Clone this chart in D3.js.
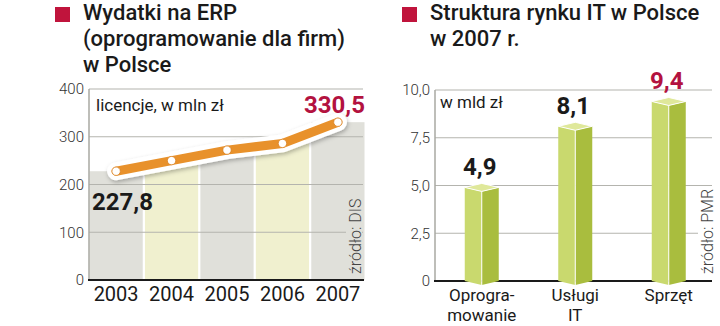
<!DOCTYPE html>
<html><head><meta charset="utf-8">
<script src="https://cdn.jsdelivr.net/npm/d3@7/dist/d3.min.js"></script>
<style>
html,body{margin:0;padding:0;background:#fff;}
svg{display:block;font-family:Roboto,"Noto Sans",sans-serif;}
</style></head>
<body>
<svg id="c" width="720" height="326"></svg>
<script>
// Left chart data
const years = ["2003","2004","2005","2006","2007"];
const erpValues = [227.8, 250, 272, 286, 330.5];
const erpTicks = [0, 100, 200, 300, 400];
// Right chart data
const categories = [["Oprogra-","mowanie"],["Usługi","IT"],["Sprzęt"]];
const itValues = [4.9, 8.1, 9.4];
const itTicks = [0, 2.5, 5, 7.5, 10];

const svg = d3.select("#c");
const RED = "#c0143c";
const fmt = d => d3.format(".1f")(d).replace(".", ",");

// defs
const defs = svg.append("defs");
const f = defs.append("filter").attr("id","sh").attr("x","-10%").attr("y","-40%").attr("width","120%").attr("height","200%");
f.append("feDropShadow").attr("dx",1).attr("dy",2).attr("stdDeviation",2.2).attr("flood-color","#000").attr("flood-opacity",0.28);

// Titles
function title(x, y, lines){
  svg.append("rect").attr("x",x).attr("y",y-13).attr("width",15).attr("height",15).attr("fill",RED);
  const t = svg.append("text").attr("x",x+28).attr("y",y).attr("font-size",22).attr("font-weight",500).attr("fill","#1a1a1a");
  lines.forEach((l,i)=> t.append("tspan").attr("x",x+28).attr("dy", i? 26:0).text(l));
}
title(55, 20, ["Wydatki na ERP","(oprogramowanie dla firm)","w Polsce"]);
title(402, 20, ["Struktura rynku IT w Polsce","w 2007 r."]);

// ---------- Left chart ----------
const x1 = d3.scaleBand().domain(years).range([89.5, 364.5]).paddingInner(0.04).paddingOuter(0);
const y1 = d3.scaleLinear().domain([0,400]).range([280, 89]);
const g1 = svg.append("g");
g1.selectAll("rect.col").data(years).join("rect")
  .attr("x", d=>x1(d)).attr("width", x1.bandwidth())
  .attr("y", (d,i)=>y1(erpValues[i])).attr("height",(d,i)=>y1(0)-y1(erpValues[i]))
  .attr("fill",(d,i)=> i%2 ? "#f0f0cf" : "#e0e0da");
// grid
g1.selectAll("line.grid").data(erpTicks.filter(d=>d>0)).join("line")
  .attr("x1",89).attr("x2",363).attr("y1",d=>y1(d)).attr("y2",d=>y1(d))
  .attr("stroke","#b4b4ae").attr("stroke-width",1.2);
g1.append("line").attr("x1",89).attr("x2",89).attr("y1",y1(400)).attr("y2",y1(0)).attr("stroke","#a8a8a2").attr("stroke-width",1.5);
// axis labels
const ax1 = g1.append("g").attr("transform","translate(84,0)")
  .call(d3.axisLeft(y1).tickValues(erpTicks).tickSize(0).tickPadding(0).tickFormat(d3.format("d")));
ax1.select(".domain").remove();
ax1.selectAll("text").attr("font-size",15).attr("font-weight",300).attr("fill","#333").attr("font-family","Roboto");
// source
g1.append("rect").attr("x",346).attr("y",196).attr("width",16).attr("height",80).attr("fill","#e0e0da");
g1.append("text").attr("transform","translate(361,274) rotate(-90)").attr("font-size",16).attr("font-weight",300).attr("fill","#444").text("źródło: DIS");
// baseline
g1.append("line").attr("x1",88).attr("x2",364).attr("y1",y1(0)).attr("y2",y1(0)).attr("stroke","#1a1a1a").attr("stroke-width",2);
// x labels
const xa1 = g1.append("g").attr("transform",`translate(0,${y1(0)})`).call(d3.axisBottom(x1).tickSize(0).tickPadding(7));
xa1.select(".domain").remove();
xa1.selectAll("text").attr("font-size",20).attr("fill","#1a1a1a").attr("font-family","Roboto").attr("dy","0.71em");
// unit
g1.append("text").attr("x",96).attr("y",111).attr("font-size",17).attr("fill","#1a1a1a").text("licencje, w mln zł");
// line
const pts = years.map((d,i)=>[x1(d)+x1.bandwidth()/2, y1(erpValues[i])]);
const line = d3.line();
g1.append("path").attr("d",line(pts)).attr("fill","none").attr("stroke","#fff").attr("stroke-width",18).attr("stroke-linecap","round").attr("stroke-linejoin","round").attr("filter","url(#sh)");
g1.append("path").attr("d",line(pts)).attr("fill","none").attr("stroke","#e8912b").attr("stroke-width",9).attr("stroke-linecap","round").attr("stroke-linejoin","round");
g1.selectAll("circle").data(pts).join("circle").attr("cx",d=>d[0]).attr("cy",d=>d[1]).attr("r",4.2).attr("fill","#fff").attr("stroke","#d98020").attr("stroke-width",0.8);
// value labels
g1.append("text").attr("x",92).attr("y",210).attr("font-size",24).attr("font-weight",700).attr("fill","#1a1a1a").text(fmt(erpValues[0]));
g1.append("text").attr("x",365).attr("y",113).attr("text-anchor","end").attr("font-size",24).attr("font-weight",700).attr("fill","#b3123f").text(fmt(erpValues[4]));

// ---------- Right chart ----------
const x2 = d3.scaleBand().domain(categories.map(c=>c.join(""))).range([435, 715.5]).padding(0);
const y2 = d3.scaleLinear().domain([0,10]).range([281, 90]);
const g2 = svg.append("g");
g2.selectAll("line.grid").data(itTicks.filter(d=>d>0)).join("line")
  .attr("x1",435).attr("x2",712).attr("y1",d=>y2(d)).attr("y2",d=>y2(d))
  .attr("stroke","#b4b4ae").attr("stroke-width",1.2);
g2.append("line").attr("x1",435).attr("x2",435).attr("y1",y2(10)).attr("y2",y2(0)).attr("stroke","#a8a8a2").attr("stroke-width",1.5);
const ax2 = g2.append("g").attr("transform","translate(430,0)")
  .call(d3.axisLeft(y2).tickValues(itTicks).tickSize(0).tickPadding(0).tickFormat(d=> d===0 ? "0" : fmt(d)));
ax2.select(".domain").remove();
ax2.selectAll("text").attr("font-size",15).attr("font-weight",300).attr("fill","#333").attr("font-family","Roboto");
g2.append("rect").attr("x",698).attr("y",186).attr("width",17).attr("height",90).attr("fill","#fff");
g2.append("text").attr("transform","translate(713,274) rotate(-90)").attr("font-size",16).attr("font-weight",300).attr("fill","#444").text("źródło: PMR");
g2.append("line").attr("x1",434).attr("x2",712).attr("y1",y2(0)).attr("y2",y2(0)).attr("stroke","#1a1a1a").attr("stroke-width",2);
g2.append("text").attr("x",440).attr("y",108).attr("font-size",17).attr("fill","#1a1a1a").text("w mld zł");

const hw = 17, dp = 4;
categories.forEach((c,i)=>{
  const cx = x2(c.join("")) + x2.bandwidth()/2;
  const yt = y2(itValues[i]), yb = y2(0);
  const bg = g2.append("g");
  bg.append("path").attr("d",`M${cx-hw},${yt}L${cx},${yt+dp}L${cx},${yb+dp}L${cx-hw},${yb}Z`).attr("fill","#c9d96e");
  bg.append("path").attr("d",`M${cx},${yt+dp}L${cx+hw},${yt}L${cx+hw},${yb}L${cx},${yb+dp}Z`).attr("fill","#a9bd3e");
  bg.append("path").attr("d",`M${cx-hw},${yt}L${cx},${yt-dp}L${cx+hw},${yt}L${cx},${yt+dp}Z`).attr("fill","#dfe89a").attr("stroke","#fff").attr("stroke-width",1).attr("stroke-linejoin","round");
  bg.append("line").attr("x1",cx).attr("x2",cx).attr("y1",yt+dp).attr("y2",yb+dp).attr("stroke","#fff").attr("stroke-width",1);
  // value
  g2.append("text").attr("x",cx-2).attr("y",yt-12).attr("text-anchor","middle").attr("font-size",24).attr("font-weight",700)
    .attr("fill", i===2 ? "#b3123f" : "#1a1a1a").text(fmt(itValues[i]));
  c.forEach((l,j)=> g2.append("text").attr("x",cx).attr("y",301 + j*20).attr("text-anchor","middle").attr("font-size",17).attr("fill","#1a1a1a").text(l));
});
</script>
</body></html>
